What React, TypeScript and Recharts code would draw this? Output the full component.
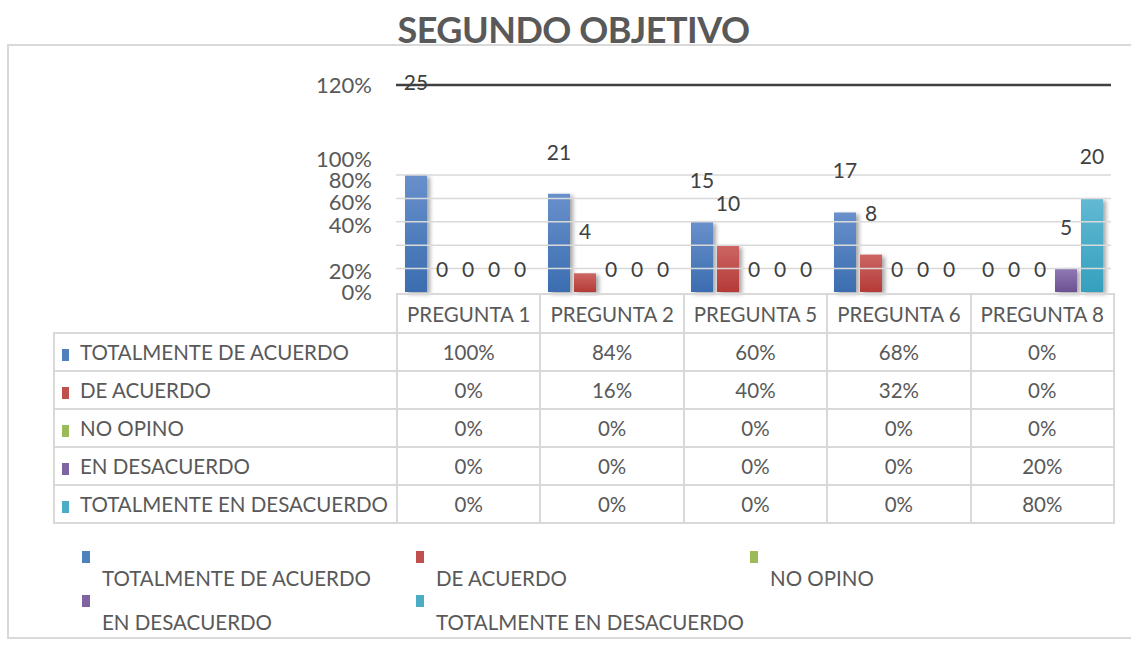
import { BarChart, Bar, XAxis, YAxis, ReferenceLine, LabelList } from 'recharts';

const FONT = 'Lato, "Open Sans", sans-serif';

const CATEGORIES = ['PREGUNTA 1', 'PREGUNTA 2', 'PREGUNTA 5', 'PREGUNTA 6', 'PREGUNTA 8'];

const SERIES_NAMES = ['TOTALMENTE DE ACUERDO', 'DE ACUERDO', 'NO OPINO', 'EN DESACUERDO', 'TOTALMENTE EN DESACUERDO'];
const SERIES_KEYS = ['tda', 'da', 'no', 'ed', 'ted'];
const SERIES_COLORS = ['#4f81bd', '#c0504d', '#9bbb59', '#8064a2', '#4bacc6'];
const SERIES_TOP = ['#6890cb', '#cc6664', '#a9c66d', '#9079b3', '#62b9d3'];
const SERIES_BOTTOM = ['#3b6db0', '#b53a37', '#8aab47', '#6c5193', '#34a0be'];

// percentages (bar heights)
const TOTALMENTE_DE_ACUERDO = [1, 0.84, 0.6, 0.68, 0];
const DE_ACUERDO = [0, 0.16, 0.4, 0.32, 0];
const NO_OPINO = [0, 0, 0, 0, 0];
const EN_DESACUERDO = [0, 0, 0, 0, 0.2];
const TOTALMENTE_EN_DESACUERDO = [0, 0, 0, 0, 0.8];

// counts shown above the bars
const TDA_COUNT = [25, 21, 15, 17, 0];
const DA_COUNT = [0, 4, 10, 8, 0];
const NO_COUNT = [0, 0, 0, 0, 0];
const ED_COUNT = [0, 0, 0, 0, 5];
const TED_COUNT = [0, 0, 0, 0, 20];

// table text
const TDA_TABLE = ['100%', '84%', '60%', '68%', '0%'];
const DA_TABLE = ['0%', '16%', '40%', '32%', '0%'];
const NO_TABLE = ['0%', '0%', '0%', '0%', '0%'];
const ED_TABLE = ['0%', '0%', '0%', '0%', '20%'];
const TED_TABLE = ['0%', '0%', '0%', '0%', '80%'];

// the axis labels sit where the original chart put them
const Y_TICK_VALUES = [0, 0.18, 0.57, 0.765, 0.955, 1.135, 1.77];
const Y_TICK_LABELS = ['0%', '20%', '40%', '60%', '80%', '100%', '120%'];
const GRID_VALUES = [0.2, 0.4, 0.6, 0.8, 1];
const Y_MAX = 1.77;

const PERCENTS = [TOTALMENTE_DE_ACUERDO, DE_ACUERDO, NO_OPINO, EN_DESACUERDO, TOTALMENTE_EN_DESACUERDO];
const COUNTS = [TDA_COUNT, DA_COUNT, NO_COUNT, ED_COUNT, TED_COUNT];
const TABLE = [TDA_TABLE, DA_TABLE, NO_TABLE, ED_TABLE, TED_TABLE];

const TEXT = '#595959';

const renderCount = (props: any) => {
  const { x, y, width, height, value } = props;
  const lift = Number(value) === 0 ? 22 : height > 110 ? 92 : 41;
  const top = Number(value) === 0 ? y + height : y;
  return (
    <text x={x + width / 2} y={top - lift + 7} textAnchor="middle" fontSize={21} fill="#404040" fontFamily={FONT}>
      {value}
    </text>
  );
};

// keep zero bars in the layout so their "0" labels get drawn
const zeroSize = (v: any) => (Number(v) === 0 ? 0.01 : 0);

export default function App() {
  const data = CATEGORIES.map((name, i) => {
    const row: any = { name };
    SERIES_KEYS.forEach((k, s) => {
      row[k] = PERCENTS[s][i];
      row[k + 'N'] = COUNTS[s][i];
    });
    return row;
  });

  const cell: any = { border: '2px solid #d9d9d9', textAlign: 'center', padding: 0, height: 36 };

  return (
    <div style={{ position: 'absolute', left: 0, top: 0, width: 1131, height: 655, background: '#fff', overflow: 'hidden', fontFamily: FONT, color: TEXT }}>
      {/* frame */}
      <div style={{ position: 'absolute', left: 7, top: 44, width: 1140, height: 591, border: '2px solid #d9d9d9' }} />

      <div style={{ position: 'absolute', left: 8, width: 1131, top: 7, textAlign: 'center', fontSize: 36, fontWeight: 700, color: TEXT, letterSpacing: -0.5 }}>
        SEGUNDO OBJETIVO
      </div>

      <div style={{ position: 'absolute', left: 0, top: 0 }}>
        <BarChart
          width={1131}
          height={300}
          data={data}
          margin={{ top: 85, right: 20, left: 336, bottom: 8 }}
          barCategoryGap={9}
          barGap={4}
        >
          <defs>
            {SERIES_KEYS.map((k, s) => (
              <linearGradient key={k} id={`grad-${k}`} x1="0" y1="0" x2="0" y2="1">
                <stop offset="0%" stopColor={SERIES_TOP[s]} />
                <stop offset="100%" stopColor={SERIES_BOTTOM[s]} />
              </linearGradient>
            ))}
            <filter id="barShadow" x="-30%" y="-10%" width="160%" height="130%">
              <feDropShadow dx="3" dy="2" stdDeviation="2" floodColor="#000" floodOpacity="0.35" />
            </filter>
          </defs>
          <XAxis dataKey="name" hide />
          <YAxis
            type="number"
            domain={[0, Y_MAX]}
            ticks={Y_TICK_VALUES}
            interval={0}
            width={60}
            tickLine={false}
            axisLine={false}
            tickSize={0}
            tickMargin={24}
            tick={{ fill: TEXT, fontSize: 22, fontFamily: FONT }}
            tickFormatter={(v: any, i: number) => Y_TICK_LABELS[i]}
          />
          {GRID_VALUES.map((g) => (
            <ReferenceLine key={g} y={g} stroke="#d9d9d9" strokeWidth={1.5} />
          ))}
          <ReferenceLine y={Y_MAX} stroke="#404040" strokeWidth={2.5} />
          {SERIES_KEYS.map((k, s) => (
            <Bar
              key={k}
              dataKey={k}
              name={SERIES_NAMES[s]}
              fill={`url(#grad-${k})`}
              filter="url(#barShadow)"
              minPointSize={zeroSize}
              isAnimationActive={false}
            >
              <LabelList dataKey={k + 'N'} content={renderCount} />
            </Bar>
          ))}
        </BarChart>
      </div>

      {/* data table */}
      <table style={{ position: 'absolute', left: 53, top: 293, borderCollapse: 'collapse', tableLayout: 'fixed', width: 1060, fontSize: 20.5, color: TEXT }}>
        <colgroup>
          <col style={{ width: 343 }} />
          {CATEGORIES.map((c) => (
            <col key={c} style={{ width: 143.4 }} />
          ))}
        </colgroup>
        <tbody>
          <tr>
            <td style={{ border: 'none', height: 36 }} />
            {CATEGORIES.map((c) => (
              <td key={c} style={cell}>{c}</td>
            ))}
          </tr>
          {SERIES_NAMES.map((name, s) => (
            <tr key={name}>
              <td style={{ ...cell, textAlign: 'left', whiteSpace: 'nowrap' }}>
                <span style={{ display: 'inline-block', width: 7, height: 12, background: SERIES_COLORS[s], marginLeft: 7, marginRight: 11, verticalAlign: -1 }} />
                {name}
              </td>
              {TABLE[s].map((v, i) => (
                <td key={i} style={cell}>{v}</td>
              ))}
            </tr>
          ))}
        </tbody>
      </table>

      {/* legend */}
      {SERIES_NAMES.map((name, s) => (
        <div key={name} style={{ position: 'absolute', left: 82 + (s % 3) * 334, top: 551 + Math.floor(s / 3) * 44, fontSize: 20.5, color: TEXT }}>
          <div style={{ width: 8, height: 12, background: SERIES_COLORS[s] }} />
          <div style={{ marginLeft: 20, marginTop: 1, whiteSpace: 'nowrap', lineHeight: '28px' }}>{name}</div>
        </div>
      ))}
    </div>
  );
}
